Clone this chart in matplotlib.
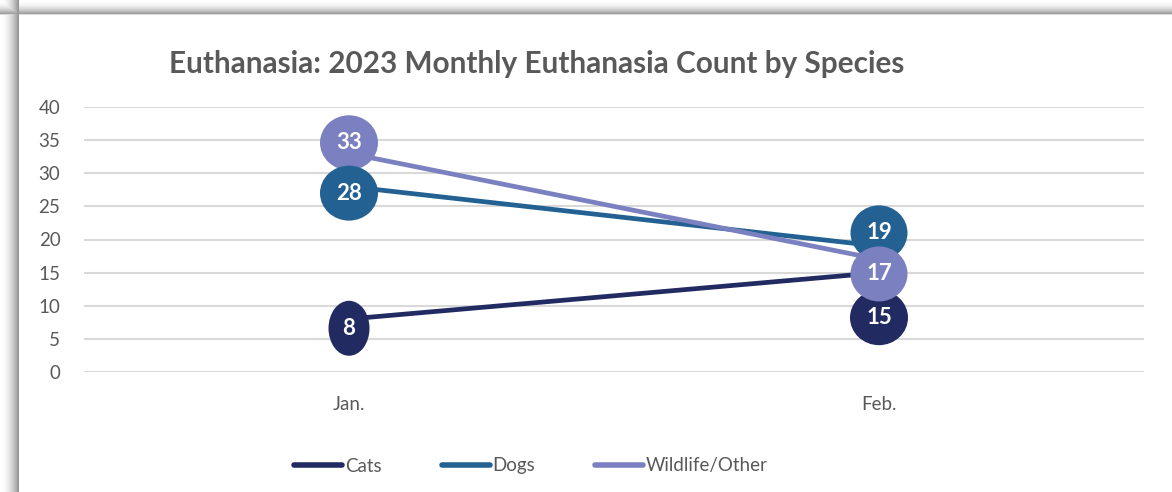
import numpy as np
import matplotlib
matplotlib.use('Agg')
import matplotlib.pyplot as plt
from matplotlib.patches import Ellipse
from matplotlib import transforms

plt.rcParams['font.family'] = ['Lato', 'DejaVu Sans']

months = ['Jan.', 'Feb.']
cats = [8, 15]
dogs = [28, 19]
wildlife = [33, 17]

series_names = ['Cats', 'Dogs', 'Wildlife/Other']
colors = ['#222A62', '#236192', '#7B80C0']

# where Excel parked the data label bubbles (value units) and their size in px
label_y = {'Cats': [6.6, 8.2], 'Dogs': [27.0, 21.0], 'Wildlife/Other': [34.6, 14.8]}
label_w = {'Cats': [41, 58], 'Dogs': [58, 57], 'Wildlife/Other': [58, 57]}
label_z = {'Cats': [5, 5], 'Dogs': [7, 6], 'Wildlife/Other': [6, 7]}

W, H = 1172, 492
fig = plt.figure(figsize=(W / 100, H / 100), dpi=100)

# shadowed frame around the chart area
bg = np.ones((H, W, 3))
xs = np.arange(W)
ys = np.arange(H)
left = np.ones(W)
m = xs < 19
left[m] = 1 - 0.42 * (xs[m] / 18.0) ** 2
top = np.ones(H)
m = ys < 14
top[m] = 1 - 0.38 * (ys[m] / 13.0) ** 2
top[14] = 0.87
shade = np.minimum(left[None, :], top[:, None])
bg *= shade[:, :, None]
fig.figimage(bg, xo=0, yo=0, origin='upper', zorder=-10)

ax = fig.add_axes([84 / W, 1 - 372 / H, (1144 - 84) / W, (372 - 107) / H])
ax.set_facecolor('none')

x = np.arange(len(months))
data = {'Cats': cats, 'Dogs': dogs, 'Wildlife/Other': wildlife}
for name, col in zip(series_names, colors):
    vals = data[name]
    ax.plot(x, vals, color=col, lw=3.4, solid_capstyle='round', zorder=3, label=name)
    for i, v in enumerate(vals):
        trans = fig.dpi_scale_trans + transforms.ScaledTranslation(x[i], label_y[name][i], ax.transData)
        e = Ellipse((0, 0), label_w[name][i] / 100, 0.55, transform=trans,
                    facecolor=col, edgecolor='none', zorder=label_z[name][i])
        ax.add_patch(e)
        ax.text(x[i], label_y[name][i], str(v), color='white', fontsize=16, fontweight='bold',
                ha='center', va='center', zorder=label_z[name][i] + 0.5)

ax.set_xlim(-0.5, 1.5)
ax.set_ylim(0, 40)
ax.set_yticks(range(0, 41, 5))
ax.set_xticks(x)
ax.set_xticklabels(months)
ax.grid(axis='y', color='#D9D9D9', lw=1.5, zorder=0)
ax.set_axisbelow(True)
for s in ax.spines.values():
    s.set_visible(False)
ax.tick_params(axis='both', length=0, labelsize=13.5, labelcolor='#595959')
ax.tick_params(axis='y', pad=17)
ax.tick_params(axis='x', pad=17)

fig.text(537 / W, 1 - 64 / H, 'Euthanasia: 2023 Monthly Euthanasia Count by Species',
         ha='center', va='center', fontsize=21.4, fontweight='bold', color='#595959')

leg = fig.legend(loc='center', bbox_to_anchor=(531 / W, 1 - 466 / H), ncol=3, frameon=False,
                 fontsize=13.5, handlelength=2.55, handletextpad=0.15, columnspacing=3.2)
for t in leg.get_texts():
    t.set_color('#595959')
for h in leg.get_lines():
    h.set_linewidth(4)

fig.savefig('out.png', dpi=100)
